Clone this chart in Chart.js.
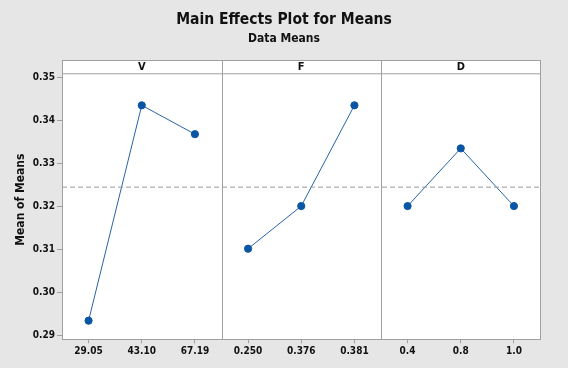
<!DOCTYPE html>
<html>
<head>
<meta charset="utf-8">
<script src="https://cdn.jsdelivr.net/npm/chart.js@4.4.1/dist/chart.umd.min.js"></script>
<style>
  html, body { margin: 0; padding: 0; background: #e6e6e6; }
  canvas { display: block; }
</style>
</head>
<body>
<canvas id="c" width="568" height="368"></canvas>
<script>
// ---- data ----
const factorNames = ['V', 'F', 'D'];
const vLevels = ['29.05', '43.10', '67.19'];
const vMeans  = [0.2935, 0.3435, 0.3368];
const fLevels = ['0.250', '0.376', '0.381'];
const fMeans  = [0.3102, 0.3201, 0.3435];
const dLevels = ['0.4', '0.8', '1.0'];
const dMeans  = [0.3201, 0.3335, 0.3201];
const grandMean = 0.3245;
const yTicks = [0.29, 0.30, 0.31, 0.32, 0.33, 0.34, 0.35];

const levels = [vLevels, fLevels, dLevels];
const means = [vMeans, fMeans, dMeans];
const xLabels = [].concat(vLevels, fLevels, dLevels);

const FONT = "'DejaVu Sans Condensed', 'DejaVu Sans', sans-serif";
const BLUE = '#0b56a4';
const GRAY = '#a0a0a0';

const datasets = means.map((arr, p) => ({
  label: factorNames[p],
  data: arr.map((v, i) => ({ x: p * 3 + i + 0.5, y: v })),
  borderColor: '#2764a8',
  backgroundColor: BLUE,
  pointBackgroundColor: BLUE,
  pointBorderColor: BLUE,
  pointRadius: 3.6,
  borderWidth: 1,
  tension: 0
}));
datasets.unshift({
  label: 'Mean',
  data: [{ x: 0, y: grandMean }, { x: 9, y: grandMean }],
  borderColor: '#9a9a9a',
  borderDash: [5, 3],
  borderWidth: 1,
  pointRadius: 0
});

const panelPlugin = {
  id: 'panels',
  beforeDraw(chart) {
    const { ctx, chartArea: a } = chart;
    ctx.save();
    ctx.fillStyle = '#e6e6e6';
    ctx.fillRect(0, 0, chart.width, chart.height);
    ctx.fillStyle = '#ffffff';
    ctx.fillRect(a.left, a.top, a.right - a.left, a.bottom - a.top);
    ctx.restore();
  },
  afterDatasetsDraw(chart) {
    const { ctx, chartArea: a, scales } = chart;
    const xs = scales.x;
    ctx.save();
    // header strip
    const stripH = 13.3;
    ctx.fillStyle = '#ffffff';
    ctx.fillRect(a.left, a.top, a.right - a.left, stripH);
    ctx.strokeStyle = GRAY;
    ctx.lineWidth = 1;
    ctx.beginPath();
    ctx.moveTo(a.left, a.top + stripH + 0.5);
    ctx.lineTo(a.right, a.top + stripH + 0.5);
    ctx.stroke();
    // dividers
    [3, 6].forEach(v => {
      const px = Math.round(xs.getPixelForValue(v)) + 0.5;
      ctx.beginPath();
      ctx.moveTo(px, a.top);
      ctx.lineTo(px, a.bottom);
      ctx.stroke();
    });
    // outer border
    ctx.strokeRect(Math.round(a.left) + 0.5, Math.round(a.top) + 0.5,
                   Math.round(a.right - a.left) - 1, Math.round(a.bottom - a.top));
    // factor names
    ctx.fillStyle = '#111111';
    ctx.font = 'bold 11px ' + FONT;
    ctx.textAlign = 'center';
    ctx.textBaseline = 'middle';
    factorNames.forEach((n, p) => {
      ctx.fillText(n, xs.getPixelForValue(p * 3 + 1.5), a.top + stripH / 2 + 0.5);
    });
    ctx.restore();
  }
};

new Chart(document.getElementById('c'), {
  type: 'line',
  data: { datasets },
  plugins: [panelPlugin],
  options: {
    responsive: false,
    animation: false,
    devicePixelRatio: 1,
    layout: { padding: { left: 0, right: 0, top: 0, bottom: 0 } },
    plugins: {
      legend: { display: false },
      tooltip: { enabled: false },
      title: {
        display: true,
        text: 'Main Effects Plot for Means',
        color: '#111111',
        font: { family: FONT, size: 15.5, weight: 'bold', lineHeight: 1.2 },
        padding: { top: 10.5, bottom: 0 }
      },
      subtitle: {
        display: true,
        text: 'Data Means',
        color: '#111111',
        font: { family: FONT, size: 12, weight: 'bold', lineHeight: 1.2 },
        padding: { top: 3, bottom: 13.5 }
      }
    },
    scales: {
      x: {
        type: 'linear',
        min: 0,
        max: 9,
        afterBuildTicks: s => { s.ticks = xLabels.map((_, i) => ({ value: i + 0.5 })); },
        afterFit: s => { s.height = 28.7; },
        ticks: {
          autoSkip: false,
          maxRotation: 0,
          padding: 2,
          color: '#111111',
          font: { family: FONT, size: 10, weight: 'bold' },
          callback: v => xLabels[Math.round(v - 0.5)]
        },
        grid: { drawOnChartArea: false, drawTicks: true, tickLength: 4, color: GRAY },
        border: { display: false }
      },
      y: {
        type: 'linear',
        min: 0.289164,
        max: 0.35402,
        afterBuildTicks: s => { s.ticks = yTicks.map(v => ({ value: v })); },
        afterFit: s => { s.width = 62; },
        ticks: {
          padding: 2,
          color: '#111111',
          font: { family: FONT, size: 10, weight: 'bold' },
          callback: v => v.toFixed(2)
        },
        grid: { drawOnChartArea: false, drawTicks: true, tickLength: 5, color: GRAY },
        border: { display: false },
        title: {
          display: true,
          text: 'Mean of Means',
          color: '#111111',
          font: { family: FONT, size: 12, weight: 'bold', lineHeight: 1.2 },
          padding: { top: 13.5, bottom: 0 }
        }
      },
      yRight: {
        type: 'linear',
        position: 'right',
        display: true,
        afterFit: s => { s.width = 27.5; },
        ticks: { display: false },
        grid: { display: false },
        border: { display: false }
      }
    }
  }
});
</script>
</body>
</html>
